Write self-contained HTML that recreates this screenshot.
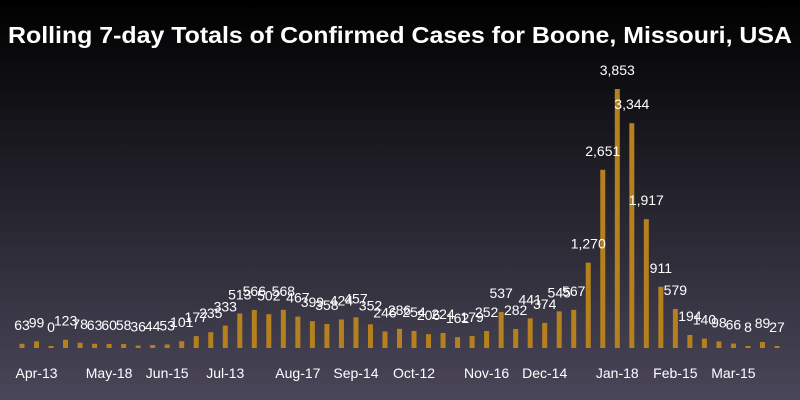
<!DOCTYPE html>
<html><head><meta charset="utf-8"><style>
html,body{margin:0;padding:0;}
body{width:800px;height:400px;overflow:hidden;}
svg{display:block;font-family:"Liberation Sans",sans-serif;}
</style></head><body>
<svg id="chart" width="800" height="400">
<defs><linearGradient id="bg" x1="0" y1="0" x2="0" y2="1">
<stop offset="0" stop-color="#000000"/><stop offset="1" stop-color="#4a4659"/></linearGradient></defs>
<rect width="800" height="400" fill="url(#bg)"/>
<text x="400" y="43" fill="#fff" font-size="23" font-weight="bold" text-anchor="middle" textLength="784" lengthAdjust="spacingAndGlyphs">Rolling 7-day Totals of Confirmed Cases for Boone, Missouri, USA</text>
<g id="bars"></g><g id="labels"></g><g id="xaxis"></g>
</svg>
<script>
const values=[63,99,0,123,78,63,60,58,36,44,53,101,177,235,333,513,566,502,568,467,399,358,424,457,352,246,286,254,206,224,162,179,252,537,282,441,374,545,567,1270,2651,3853,3344,1917,911,579,194,140,98,66,8,89,27];
const tickIdx=[1,6,10,14,19,23,27,32,36,41,45,49];
const tickLabels=["Apr-13","May-18","Jun-15","Jul-13","Aug-17","Sep-14","Oct-12","Nov-16","Dec-14","Jan-18","Feb-15","Mar-15"];
const NS="http://www.w3.org/2000/svg";
const x0=22,step=(777-22)/52,base=348,maxH=259,maxV=3853;
const xs=i=>x0+i*step;
const ys=v=>base-v/maxV*maxH;
const gb=document.getElementById('bars'),gl=document.getElementById('labels'),gx=document.getElementById('xaxis');
values.forEach((v,i)=>{
  const r=document.createElementNS(NS,'rect');
  const h=Math.max(base-ys(v),2);
  r.setAttribute('x',xs(i)-2.5);r.setAttribute('y',base-h);
  r.setAttribute('width',5);r.setAttribute('height',h);
  r.setAttribute('fill','#b5811f');
  
  
  gb.appendChild(r);
  const t=document.createElementNS(NS,'text');
  t.setAttribute('x',xs(i));t.setAttribute('y',base-h-14);
  t.setAttribute('fill','#fff');t.setAttribute('font-size','14');t.setAttribute('text-anchor','middle');
  t.textContent=v.toLocaleString('en-US');
  
  
  gl.appendChild(t);
});
tickIdx.forEach((k,j)=>{
  const t=document.createElementNS(NS,'text');
  t.setAttribute('x',xs(k));t.setAttribute('y',378);
  t.setAttribute('fill','#fff');t.setAttribute('font-size','14');t.setAttribute('text-anchor','middle');
  t.textContent=tickLabels[j];
  
  
  gx.appendChild(t);
});
</script>
</body></html>
